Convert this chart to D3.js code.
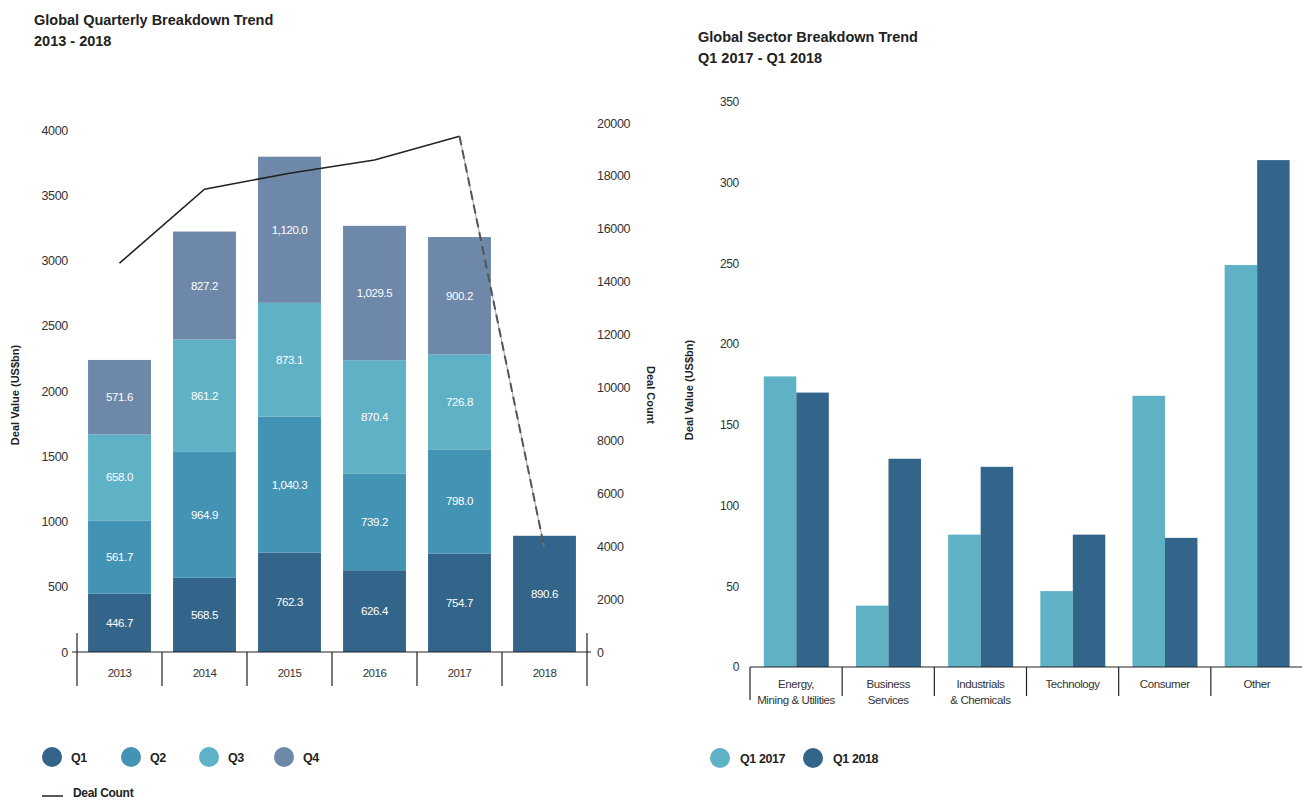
<!DOCTYPE html>
<html><head><meta charset="utf-8">
<script src="https://cdn.jsdelivr.net/npm/d3@7"></script>
<style>
body{margin:0;background:#fff;}
text{font-family:"Liberation Sans",Arial,sans-serif;}
</style></head>
<body><svg id="c" width="1302" height="802"></svg>
<script>
// ---- Left chart data ----
const years = ["2013","2014","2015","2016","2017","2018"];
const quarters = ["Q1","Q2","Q3","Q4"];
const q1 = [446.7, 568.5, 762.3, 626.4, 754.7, 890.6];
const q2 = [561.7, 964.9, 1040.3, 739.2, 798.0, 0];
const q3 = [658.0, 861.2, 873.1, 870.4, 726.8, 0];
const q4 = [571.6, 827.2, 1120.0, 1029.5, 900.2, 0];
const dealCount = [14700, 17500, 18100, 18600, 19500, 3900];
const leftTicks = [0,500,1000,1500,2000,2500,3000,3500,4000];
const rightTicks = [0,2000,4000,6000,8000,10000,12000,14000,16000,18000,20000];
const qColors = ["#33658a","#4393b4","#5fb1c5","#6d88a8"];

// ---- Right chart data ----
const sectors = [["Energy,","Mining & Utilities"],["Business","Services"],["Industrials","& Chemicals"],["Technology"],["Consumer"],["Other"]];
const seriesNames = ["Q1 2017","Q1 2018"];
const q12017 = [180, 38, 82, 47, 168, 249];
const q12018 = [170, 129, 124, 82, 80, 314];
const sectorTicks = [0,50,100,150,200,250,300,350];
const sColors = ["#5fb1c5","#33658a"];

const svg = d3.select("#c");
const txt = "#333";
const fmtTick = d3.format("d");

// ===== LEFT CHART =====
const x = d3.scaleBand().domain(years).range([77,587]).paddingInner(0.26).paddingOuter(0.13);
const xb = d3.scaleBand().domain(years).range([77,587]);
const y = d3.scaleLinear().domain([0,4000]).range([652,130]);
const y2 = d3.scaleLinear().domain([0,20000]).range([652,123]);

svg.append("text").attr("x",34).attr("y",25).attr("font-size",14.5).attr("font-weight","bold").attr("fill","#222").text("Global Quarterly Breakdown Trend");
svg.append("text").attr("x",34).attr("y",46).attr("font-size",14.5).attr("font-weight","bold").attr("fill","#222").text("2013 - 2018");

const qData = [q1,q2,q3,q4];
const rows = years.map((yr,i)=>{const o={year:yr}; quarters.forEach((q,j)=>o[q]=qData[j][i]); return o;});
const stack = d3.stack().keys(quarters)(rows);
const g = svg.append("g");
stack.forEach((layer,li)=>{
  layer.forEach((d,i)=>{
    if(d[1]-d[0] <= 0) return;
    g.append("rect").attr("x",x(years[i])).attr("width",x.bandwidth())
      .attr("y",y(d[1])).attr("height",y(d[0])-y(d[1])).attr("fill",qColors[li]);
    g.append("text").attr("x",x(years[i])+x.bandwidth()/2).attr("y",(y(d[0])+y(d[1]))/2+4)
      .attr("text-anchor","middle").attr("font-size",11.5).attr("fill","#fff").attr("letter-spacing","-0.4")
      .text(d3.format(",.1f")(d[1]-d[0]));
  });
});

// left y axis labels
const ay = svg.append("g").attr("transform","translate(68,0)").call(d3.axisLeft(y).tickValues(leftTicks).tickFormat(fmtTick).tickSize(0).tickPadding(0));
ay.select(".domain").remove();
ay.selectAll("text").attr("font-size",12.5).attr("fill",txt).attr("font-family","Liberation Sans, Arial").attr("letter-spacing","-0.3");
// right y axis labels
const ay2 = svg.append("g").attr("transform","translate(597,0)").call(d3.axisRight(y2).tickValues(rightTicks).tickFormat(fmtTick).tickSize(0).tickPadding(0));
ay2.select(".domain").remove();
ay2.selectAll("text").attr("font-size",12.5).attr("fill",txt).attr("font-family","Liberation Sans, Arial").attr("letter-spacing","-0.3");

// x axis
const ax = svg.append("g").attr("transform","translate(0,652)").call(d3.axisBottom(xb).tickSize(0).tickPadding(17));
ax.select(".domain").remove();
ax.selectAll("text").attr("font-size",11.5).attr("fill",txt).attr("font-family","Liberation Sans, Arial").attr("letter-spacing","-0.5");
svg.append("line").attr("x1",72).attr("x2",591).attr("y1",652).attr("y2",652).attr("stroke","#222").attr("stroke-width",1.2);
years.forEach((yr,i)=>{
  const xx = xb(yr);
  svg.append("line").attr("x1",xx).attr("x2",xx).attr("y1",i===0?633:652).attr("y2",686).attr("stroke","#222").attr("stroke-width",1.2);
});
svg.append("line").attr("x1",587).attr("x2",587).attr("y1",633).attr("y2",686).attr("stroke","#222").attr("stroke-width",1.2);

svg.append("text").attr("transform","translate(19,395) rotate(-90)").attr("text-anchor","middle").attr("font-size",11).attr("font-weight","bold").attr("fill","#222").text("Deal Value (US$bn)");
svg.append("text").attr("transform","translate(647,395) rotate(90)").attr("text-anchor","middle").attr("font-size",11).attr("font-weight","bold").attr("fill","#222").text("Deal Count");

// deal count line
const pts = years.map((yr,i)=>[xb(yr)+xb.bandwidth()/2, y2(dealCount[i])]);
const lineGen = d3.line();
svg.append("path").attr("d",lineGen(pts.slice(0,5))).attr("fill","none").attr("stroke","#222").attr("stroke-width",1.6);
svg.append("path").attr("d",lineGen(pts.slice(4,6))).attr("fill","none").attr("stroke","#888").attr("stroke-width",0.8);
svg.append("path").attr("d",lineGen(pts.slice(4,6))).attr("fill","none").attr("stroke","#555").attr("stroke-width",2).attr("stroke-dasharray","9,5");

// left legend
const legX = [52,131,209,284];
quarters.forEach((q,i)=>{
  svg.append("circle").attr("cx",legX[i]).attr("cy",757).attr("r",10).attr("fill",qColors[i]);
  svg.append("text").attr("x",legX[i]+19).attr("y",762).attr("font-size",12.5).attr("font-weight","bold").attr("fill","#222").attr("letter-spacing","-0.4").text(q);
});
svg.append("line").attr("x1",42).attr("x2",63).attr("y1",796).attr("y2",796).attr("stroke","#222").attr("stroke-width",1.5);
svg.append("text").attr("x",73).attr("y",797).attr("font-size",12).attr("font-weight","bold").attr("fill","#222").attr("letter-spacing","-0.3").text("Deal Count");

// ===== RIGHT CHART =====
const sx = d3.scaleBand().domain(d3.range(sectors.length)).range([750,1303]);
const sInner = d3.scaleBand().domain(seriesNames).range([sx.bandwidth()*0.15, sx.bandwidth()*0.855]);
const sy = d3.scaleLinear().domain([0,350]).range([667,102]);

svg.append("text").attr("x",698).attr("y",42).attr("font-size",14.5).attr("font-weight","bold").attr("fill","#222").text("Global Sector Breakdown Trend");
svg.append("text").attr("x",698).attr("y",63).attr("font-size",14.5).attr("font-weight","bold").attr("fill","#222").text("Q1 2017 - Q1 2018");

const sData = [q12017, q12018];
sectors.forEach((s,i)=>{
  seriesNames.forEach((n,j)=>{
    const v = sData[j][i];
    svg.append("rect").attr("x",sx(i)+sInner(n)).attr("width",sInner.bandwidth())
      .attr("y",sy(v)).attr("height",sy(0)-sy(v)).attr("fill",sColors[j]);
  });
});
const say = svg.append("g").attr("transform","translate(739,0)").call(d3.axisLeft(sy).tickValues(sectorTicks).tickFormat(fmtTick).tickSize(0).tickPadding(0));
say.select(".domain").remove();
say.selectAll("text").attr("font-size",12).attr("fill",txt).attr("font-family","Liberation Sans, Arial").attr("letter-spacing","-0.3");
svg.append("line").attr("x1",750).attr("x2",1302).attr("y1",667).attr("y2",667).attr("stroke","#222").attr("stroke-width",1.2);
sectors.forEach((s,i)=>{
  svg.append("line").attr("x1",sx(i)).attr("x2",sx(i)).attr("y1",667).attr("y2",i===0?700:696).attr("stroke","#222").attr("stroke-width",1.2);
  s.forEach((line,k)=>{
    svg.append("text").attr("x",sx(i)+sx.bandwidth()/2).attr("y",688+k*16).attr("text-anchor","middle")
      .attr("font-size",11.5).attr("fill",txt).attr("letter-spacing","-0.4").text(line);
  });
});
svg.append("text").attr("transform","translate(693,390) rotate(-90)").attr("text-anchor","middle").attr("font-size",11).attr("font-weight","bold").attr("fill","#222").text("Deal Value (US$bn)");

// right legend
const rLegX = [720,813];
seriesNames.forEach((n,i)=>{
  svg.append("circle").attr("cx",rLegX[i]).attr("cy",758).attr("r",10).attr("fill",sColors[i]);
  svg.append("text").attr("x",rLegX[i]+20).attr("y",763).attr("font-size",12.5).attr("font-weight","bold").attr("fill","#222").attr("letter-spacing","-0.4").text(n);
});
</script></body></html>
